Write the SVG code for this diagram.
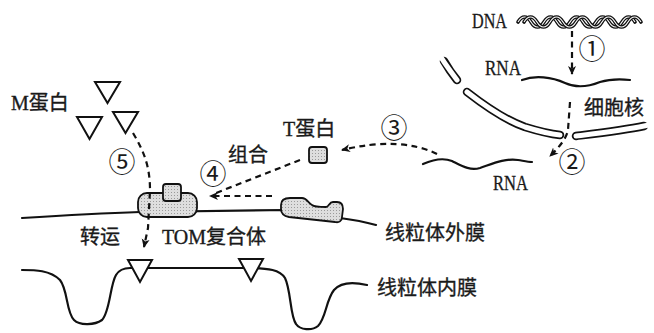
<svg xmlns="http://www.w3.org/2000/svg" width="654" height="333" viewBox="0 0 654 333">
  <style>
    .txt { font-family: "Liberation Serif", "Noto Sans CJK SC", serif; font-size: 20px; fill: #1a1a1a; stroke: #1a1a1a; stroke-width: 0.35; }
    .lat { font-family: "Liberation Serif", serif; font-size: 20px; fill: #1a1a1a; stroke: #1a1a1a; stroke-width: 0.3; }
    .num { font-family: "Noto Sans CJK SC", sans-serif; font-size: 27px; fill: #1a1a1a; text-anchor: middle; }
    .line { fill: none; stroke: #111; stroke-width: 2.2; stroke-linecap: round; stroke-linejoin: round; }
    .dash { fill: none; stroke: #111; stroke-width: 2.2; stroke-dasharray: 6 4.5; }
    .prot { fill: url(#stipple); stroke: #111; stroke-width: 1.8; }
    .tri { fill: #fff; stroke: #111; stroke-width: 2; stroke-linejoin: miter; }
    .strand { fill: none; stroke: #111; stroke-width: 3.6; stroke-linecap: round; }
    .strand-core { fill: none; stroke: #fff; stroke-width: 1.1; }
  </style>
  <defs>
    <pattern id="stipple" width="3" height="3" patternUnits="userSpaceOnUse">
      <rect width="3" height="3" fill="#dedede"/>
      <rect width="1" height="1" fill="#9a9a9a"/>
    </pattern>
    <marker id="arrow" markerWidth="10" markerHeight="10" refX="8" refY="5" orient="auto" markerUnits="userSpaceOnUse">
      <path d="M0,1 L9,5 L0,9 L2.5,5 Z" fill="#111"/>
    </marker>
    <!-- one helix strand, about five turns -->
    <path id="strand" d="M0,0 c4,-6.67 9,-6.67 13,0 c4,6.67 9,6.67 13,0 c4,-6.67 9,-6.67 13,0 c4,6.67 9,6.67 13,0 c4,-6.67 9,-6.67 13,0 c4,6.67 9,6.67 13,0 c4,-6.67 9,-6.67 13,0 c4,6.67 9,6.67 13,0 c4,-6.67 9,-6.67 13,0"/>
  </defs>

  <rect width="654" height="333" fill="#fff"/>

  <!-- nucleus: DNA double helix -->
  <g id="dna">
    <use href="#strand" class="strand" x="518" y="22"/>
    <use href="#strand" class="strand-core" x="518" y="22"/>
    <use href="#strand" class="strand" x="524" y="22"/>
    <use href="#strand" class="strand-core" x="524" y="22"/>
    <text class="lat" x="472" y="28" textLength="35" lengthAdjust="spacingAndGlyphs">DNA</text>
  </g>

  <!-- RNA inside the nucleus -->
  <g id="rna-nuclear">
    <path class="line" d="M522,80 C535,75 552,77 565,83 C578,89 590,86 600,82 C610,79 620,79 630,80"/>
    <text class="lat" x="485" y="75" textLength="36" lengthAdjust="spacingAndGlyphs">RNA</text>
  </g>

  <!-- nuclear envelope: double membrane with pores -->
  <g id="nuclear-envelope">
    <path fill="none" stroke="#111" stroke-width="8.5" stroke-linecap="round" d="M444,61 C448,68 452,74 457,80"/>
    <path fill="none" stroke="#fff" stroke-width="5" stroke-linecap="round" d="M436,49 C442,60 451,72 457,80"/>
    <path fill="none" stroke="#111" stroke-width="8.5" stroke-linecap="round" d="M467,92 C485,106 505,120 525,127 C538,131 550,134 560,135"/>
    <path fill="none" stroke="#fff" stroke-width="5" stroke-linecap="round" d="M467,92 C485,106 505,120 525,127 C538,131 550,134 560,135"/>
    <path fill="none" stroke="#111" stroke-width="8.5" stroke-linecap="round" d="M576,136 C600,133 625,130 644,126"/>
    <path fill="none" stroke="#fff" stroke-width="5" stroke-linecap="round" d="M576,136 C600,133 625,130 644,126 L654,124"/>
    <text class="txt" x="584" y="115">细胞核</text>
  </g>

  <!-- RNA in the cytoplasm -->
  <g id="rna-cytoplasm">
    <path class="line" d="M423,164 C432,160 442,157 452,161 C462,166 470,171 480,168 C492,164 505,158 518,160 C524,161 528,162 532,162"/>
    <text class="lat" x="493" y="190" textLength="35" lengthAdjust="spacingAndGlyphs">RNA</text>
  </g>

  <!-- T protein -->
  <g id="t-protein">
    <rect class="prot" x="309" y="147" width="18" height="16" rx="3"/>
    <text class="txt" x="283" y="136">T蛋白</text>
  </g>

  <!-- M protein -->
  <g id="m-protein">
    <path class="tri" d="M95,82 L120,82 L107.5,103 Z"/>
    <path class="tri" d="M77,117 L102,117 L89.5,139 Z"/>
    <path class="tri" d="M113,112 L138,112 L125.5,133 Z"/>
    <text class="txt" x="11" y="110">M蛋白</text>
  </g>

  <!-- mitochondrial membranes -->
  <g id="outer-membrane">
    <path class="line" d="M22,218 C70,215 110,213 140,212 L285,210 L340,218 C355,220 365,222 376,225"/>
    <text class="txt" x="385" y="240">线粒体外膜</text>
  </g>
  <g id="inner-membrane">
    <path class="line" d="M22,270 C35,270 50,270 60,280 C68,290 66,312 74,320 C80,326 95,325 102,320 C110,312 110,285 116,275 C119,270 124,268 130,268 L245,268 C270,268 280,270 285,278 C291,290 290,316 296,324 C300,330 312,331 318,326 C326,318 326,300 334,290 C340,283 350,281 367,285"/>
    <path class="tri" d="M128,260 L152,260 L140,282 Z"/>
    <path class="tri" d="M239,259 L263,259 L251,281 Z"/>
    <text class="txt" x="377" y="295">线粒体内膜</text>
  </g>

  <!-- TOM complexes on the outer membrane -->
  <g id="tom-complex">
    <rect class="prot" x="138" y="193" width="59" height="24" rx="9"/>
    <rect class="prot" x="163" y="184" width="18" height="17" rx="3"/>
    <path class="prot" d="M290,198 L302,198 C307,198 308,203 312,205 C314,207 320,207 326,207 C329,207 329,202 333,202 L337,202 C341,202 343,205 343,209 L342,217 C342,221 339,223 335,222 L289,217 C284,216 281,213 281,209 L281,205 C281,200 285,198 290,198 Z"/>
    <text class="txt" x="162" y="244">TOM复合体</text>
  </g>

  <!-- labels -->
  <g id="labels">
    <text class="txt" x="228" y="162">组合</text>
    <text class="txt" x="80" y="244">转运</text>
    <text class="num" x="592" y="59">①</text>
    <text class="num" x="572" y="172">②</text>
    <text class="num" x="394" y="138">③</text>
    <text class="num" x="213" y="184">④</text>
    <text class="num" x="122" y="172">⑤</text>
  </g>

  <!-- process arrows -->
  <g id="connectors">
    <path class="dash" d="M572,31 L572,74" marker-end="url(#arrow)"/>
    <path class="dash" d="M570,102 L568,130 Q566,141 550,156" marker-end="url(#arrow)"/>
    <path class="dash" d="M437,154 Q400,136 342,150" marker-end="url(#arrow)"/>
    <path class="dash" d="M300,160 L216,193"/>
    <path class="dash" d="M272,196 L210,196" marker-end="url(#arrow)"/>
    <path class="dash" d="M133,133 C143,150 150,165 150,190 L148,228 L144,247" marker-end="url(#arrow)"/>
  </g>
</svg>
